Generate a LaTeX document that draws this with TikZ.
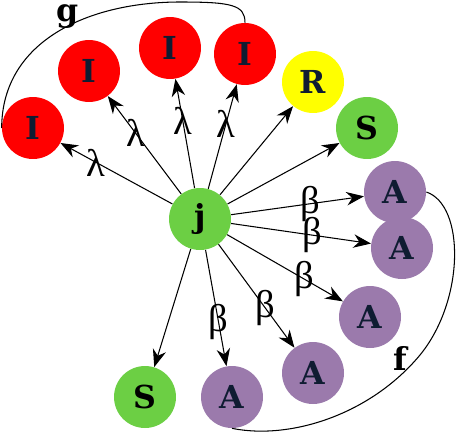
\documentclass[tikz,border=0pt]{standalone}
\usepackage{fontspec}
\newfontfamily\lettres{DejaVu Serif}
\newfontfamily\grec{Liberation Serif}
\usetikzlibrary{arrows.meta}
\definecolor{rouge}{RGB}{255,0,0}
\definecolor{jaune}{RGB}{255,255,0}
\definecolor{vert}{RGB}{108,207,68}
\definecolor{violet}{RGB}{155,122,172}
\definecolor{encre}{RGB}{15,28,50}
\begin{document}
\begin{tikzpicture}[x=0.02cm,y=-0.02cm,
    etat/.style={circle,minimum size=1.24cm,inner sep=0pt,text=encre,
      font=\lettres\bfseries\fontsize{18}{20}\selectfont},
    fleche/.style={-{Stealth[length=3.5mm,width=2.7mm]},line width=0.6pt},
    etiq/.style={pos=0.62,inner sep=0pt,font=\grec\fontsize{22}{25}\selectfont},
    marque/.style={inner sep=0pt,font=\lettres\bfseries\fontsize{18}{20}\selectfont}]
    \useasboundingbox (0,0) rectangle (459,433);

    % Les etats infectes en rouge
    \node[etat,fill=rouge] (I1) at (33,128) {I};
    \node[etat,fill=rouge] (I2) at (89,71) {I};
    \node[etat,fill=rouge] (I3) at (170,48) {I};
    \node[etat,fill=rouge] (I4) at (245,54) {I};
    % Retabli et sains
    \node[etat,fill=jaune] (R) at (313,82) {R};
    \node[etat,fill=vert,text=black] (S1) at (367,128) {S};
    \node[etat,fill=vert,text=black] (j) at (200,219) {j};
    \node[etat,fill=vert,text=black] (S2) at (145,397) {S};
    % Les etats A en violet
    \node[etat,fill=violet] (A1) at (395,192) {A};
    \node[etat,fill=violet] (A2) at (402,248) {A};
    \node[etat,fill=violet] (A3) at (370,317) {A};
    \node[etat,fill=violet] (A4) at (313,373) {A};
    \node[etat,fill=violet] (A5) at (232,397) {A};

    % Les fleches issues de j
    \draw[fleche] (j) -- node[etiq,pos=0.68] {λ} (I1);
    \draw[fleche] (j) -- node[etiq] {λ} (I2);
    \draw[fleche] (j) -- node[etiq] {λ} (I3);
    \draw[fleche] (j) -- node[etiq] {λ} (I4);
    \draw[fleche] (j) -- (R);
    \draw[fleche] (j) -- (S1);
    \draw[fleche] (j) -- node[etiq,pos=0.6] {β} (A1);
    \draw[fleche] (j) -- node[etiq,pos=0.58] {β} (A2);
    \draw[fleche] (j) -- node[etiq,pos=0.67] {β} (A3);
    \draw[fleche] (j) -- node[etiq] {β} (A4);
    \draw[fleche] (j) -- node[etiq] {β} (A5);
    \draw[fleche] (j) -- (S2);

    % Les deux courbes qui regroupent
    \draw[line width=0.6pt] (I1.west) .. controls (2,40) and (90,2) .. (180,2)
        .. controls (232,2) and (245,5) .. (I4.north);
    \draw[line width=0.6pt] (A1.east) .. controls (465,205) and (465,300) .. (420,355)
        .. controls (370,415) and (290,440) .. (A5.south);
    \node[marque] (g) at (68,17) {g};
    \node[marque] (f) at (400,358) {f};
\end{tikzpicture}
\end{document}
